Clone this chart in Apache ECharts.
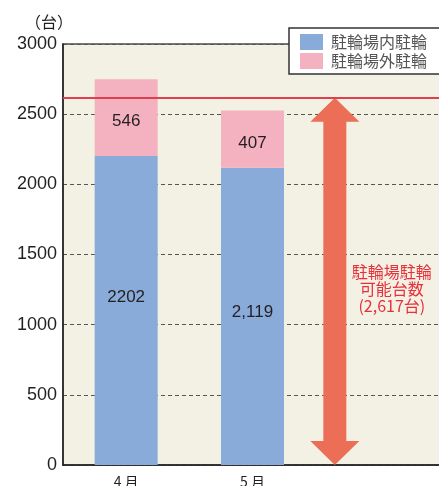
<!DOCTYPE html>
<html>
<head>
<meta charset="utf-8">
<script src="https://cdn.jsdelivr.net/npm/echarts@6/dist/echarts.min.js"></script>
<style>
  html, body { margin: 0; padding: 0; background: #ffffff; }
  #chart { width: 439px; height: 486px; }
</style>
</head>
<body>
<div id="chart"></div>
<script>
// Monthly bicycle parking counts (台)
const months = ['4 月', '5 月', ''];
const insideLabel = '駐輪場内駐輪';
const outsideLabel = '駐輪場外駐輪';
const insideCounts = [2202, 2119, '-'];
const outsideCounts = [546, 407, '-'];
const insideText = ['2202', '2,119'];
const capacity = 2617;
const capacityText = ['駐輪場駐輪', '可能台数', '(2,617台)'];
const yTicks = [0, 500, 1000, 1500, 2000, 2500, 3000];

const FONT = "'Liberation Sans', 'Noto Sans CJK JP', sans-serif";
const CJK = "'Noto Sans CJK JP', 'Liberation Sans', sans-serif";

const chart = echarts.init(document.getElementById('chart'), null, { renderer: 'canvas' });

chart.setOption({
  animation: false,
  backgroundColor: '#ffffff',
  textStyle: { fontFamily: FONT },
  grid: {
    left: 63, right: -3, top: 44, bottom: 21,
    outerBoundsMode: 'none',
    containLabel: false,
    show: true,
    backgroundColor: '#f3f0e4',
    borderColor: '#4a4a4a',
    borderWidth: 1.5
  },
  legend: {
    orient: 'vertical',
    left: 289, top: 28,
    padding: [6, 30, 5, 11],
    itemGap: 3,
    itemWidth: 23, itemHeight: 16,
    backgroundColor: '#ffffff',
    borderColor: '#333333',
    borderWidth: 1.5,
    borderRadius: 0,
    icon: 'rect',
    textStyle: { fontFamily: CJK, fontSize: 16, color: '#555555', padding: [0, 0, 0, 3] },
    data: [insideLabel, outsideLabel]
  },
  graphic: [{
    type: 'text', left: 25, top: 14,
    style: { text: '（台）', font: '16px ' + CJK, fill: '#231f20' }
  }],
  xAxis: {
    type: 'category',
    data: months,
    axisLine: { show: true, lineStyle: { color: '#231f20', width: 1.5 } },
    axisTick: { show: false },
    axisLabel: { fontFamily: CJK, fontSize: 14, color: '#231f20', margin: 10 },
    splitLine: { show: false }
  },
  yAxis: {
    type: 'value',
    min: yTicks[0], max: yTicks[yTicks.length - 1], interval: 500,
    axisLine: { show: true, lineStyle: { color: '#231f20', width: 1.5 } },
    axisTick: { show: false },
    axisLabel: {
      fontSize: 18, color: '#231f20', margin: 6,
      formatter: v => String(v)
    },
    splitLine: {
      show: true,
      lineStyle: { color: '#555555', type: [4, 3], width: 1 }
    }
  },
  series: [
    {
      name: insideLabel,
      type: 'bar',
      stack: 'total',
      barWidth: 63,
      itemStyle: { color: '#89abd9' },
      label: {
        show: true, position: 'inside',
        fontSize: 17, color: '#231f20',
        formatter: p => insideText[p.dataIndex]
      },
      data: insideCounts.map((v, i) => ({
        value: v,
        label: { offset: [0, i === 0 ? -13 : -4] }
      })),
      z: 3
    },
    {
      name: outsideLabel,
      type: 'bar',
      stack: 'total',
      barWidth: 63,
      itemStyle: { color: '#f4b2c1' },
      label: {
        show: true, position: 'inside', offset: [0, 4],
        fontSize: 17, color: '#231f20'
      },
      data: outsideCounts,
      markLine: {
        silent: true,
        symbol: 'none',
        label: { show: false },
        lineStyle: { color: '#e0404e', width: 2, type: 'solid' },
        data: [{ yAxis: capacity }]
      },
      z: 3
    },
    {
      // Double-headed arrow spanning 0 → parking capacity, with caption
      type: 'custom',
      data: [[2, capacity]],
      z: 4,
      renderItem: function (params, api) {
        const base = api.coord([api.value(0), 0]);
        const top = api.coord([api.value(0), api.value(1)]);
        const cx = base[0] - 44;
        const shaftHalf = 11.5, headHalf = 24.5, headH = 24;
        const y0 = top[1], y1 = base[1];
        const pts = [
          [cx, y0],
          [cx + headHalf, y0 + headH],
          [cx + shaftHalf, y0 + headH],
          [cx + shaftHalf, y1 - headH],
          [cx + headHalf, y1 - headH],
          [cx, y1],
          [cx - headHalf, y1 - headH],
          [cx - shaftHalf, y1 - headH],
          [cx - shaftHalf, y0 + headH],
          [cx - headHalf, y0 + headH]
        ];
        return {
          type: 'group',
          children: [
            { type: 'polygon', shape: { points: pts }, style: { fill: '#ec6e57' } },
            {
              type: 'text',
              x: cx + 57, y: (y0 + y1) / 2 + 8,
              style: {
                text: capacityText.join('\n'),
                font: '16px ' + CJK,
                fill: '#e8303a',
                align: 'center',
                verticalAlign: 'middle',
                lineHeight: 17
              }
            }
          ]
        };
      }
    }
  ]
});
</script>
</body>
</html>
